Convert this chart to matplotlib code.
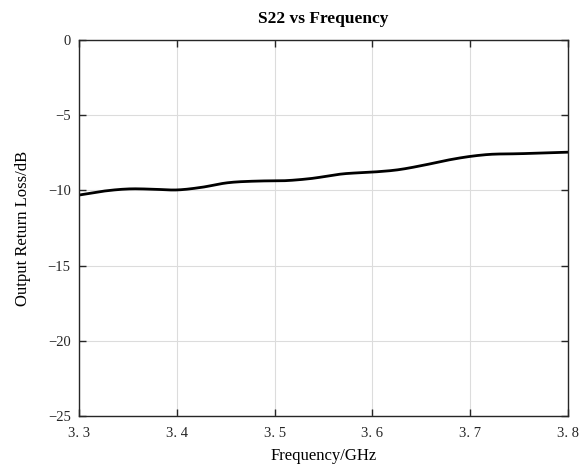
import matplotlib
matplotlib.use("Agg")
import matplotlib.pyplot as plt
import numpy as np

freq = [3.300, 3.325, 3.352, 3.375, 3.400, 3.425, 3.451, 3.482, 3.512, 3.536,
        3.570, 3.601, 3.625, 3.652, 3.676, 3.700, 3.717, 3.751, 3.800]
s22 = [-10.31, -10.05, -9.90, -9.92, -9.97, -9.80, -9.50, -9.38, -9.35, -9.22,
       -8.90, -8.78, -8.64, -8.33, -8.00, -7.74, -7.62, -7.56, -7.46]
xticks = [3.3, 3.4, 3.5, 3.6, 3.7, 3.8]
xticklabels = ["3. 3", "3. 4", "3. 5", "3. 6", "3. 7", "3. 8"]
yticks = [-25, -20, -15, -10, -5, 0]

fx = np.linspace(freq[0], freq[-1], 400)
def hermite(x, y, xs):
    x = np.asarray(x); y = np.asarray(y)
    m = np.gradient(y, x)
    out = np.empty_like(xs)
    for k, xv in enumerate(xs):
        i = np.searchsorted(x, xv) - 1
        i = min(max(i, 0), len(x) - 2)
        h = x[i+1] - x[i]
        t = (xv - x[i]) / h
        h00 = 2*t**3 - 3*t**2 + 1
        h10 = t**3 - 2*t**2 + t
        h01 = -2*t**3 + 3*t**2
        h11 = t**3 - t**2
        out[k] = h00*y[i] + h10*h*m[i] + h01*y[i+1] + h11*h*m[i+1]
    return out
fy = hermite(freq, s22, fx)

fig = plt.figure(figsize=(5.88, 4.71), dpi=100)
ax = fig.add_axes([0.1344, 0.1168, 0.8316, 0.7983])
ax.plot(fx, fy, color="black", linewidth=2.0)
ax.set_xlim(3.3, 3.8)
ax.set_ylim(-25, 0)
ax.set_xticks(xticks)
ax.set_xticklabels(xticklabels, fontfamily="Liberation Serif", fontsize=10.5)
ax.set_yticks(yticks)
ax.set_yticklabels([f"\u2212{abs(v)}" if v < 0 else f"{v}" for v in yticks],
                   fontfamily="Liberation Serif", fontsize=10.5)
ax.grid(True, color="#dcdcdc", linewidth=0.8)
ax.set_axisbelow(True)
ax.tick_params(direction="in", length=5, width=1, top=True, right=True, colors="#262626")
ax.tick_params(axis="x", pad=8)
ax.tick_params(axis="y", pad=6)
for tl in ax.get_xticklabels() + ax.get_yticklabels():
    tl.set_color("#262626")
for s in ax.spines.values():
    s.set_color("#262626")
    s.set_linewidth(1.0)
ax.set_xlabel("Frequency/GHz", fontfamily="Liberation Serif", fontsize=12, labelpad=6)
ax.set_ylabel("Output Return Loss/dB", fontfamily="Liberation Serif", fontsize=12, labelpad=12)
ax.set_title("S22 vs Frequency", fontfamily="Liberation Serif", fontsize=12.5,
             fontweight="bold", pad=12)
fig.savefig("out.png", dpi=100)
